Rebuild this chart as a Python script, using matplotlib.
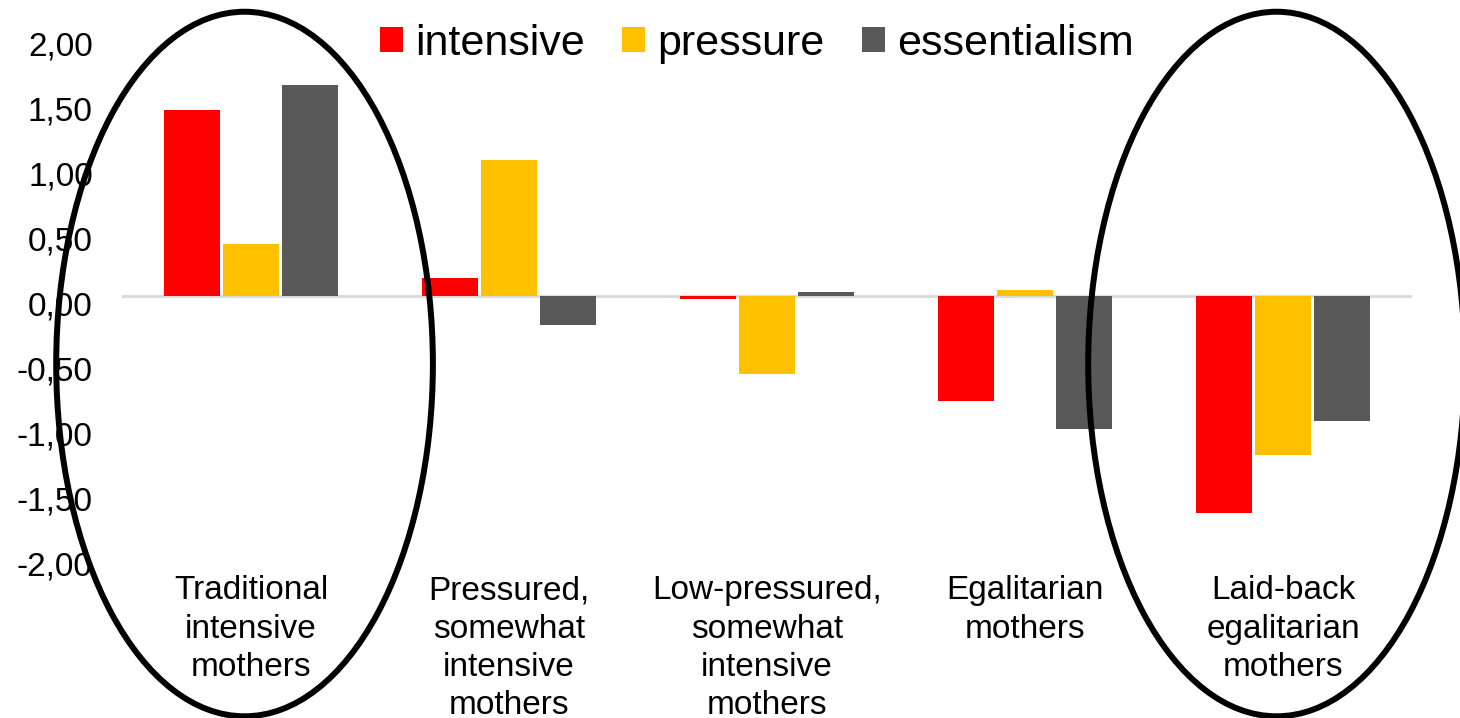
import numpy as np
import matplotlib
matplotlib.use('Agg')
import matplotlib.pyplot as plt
from matplotlib.patches import Ellipse, Patch
from matplotlib.transforms import ScaledTranslation

plt.rcParams['font.family'] = ['Liberation Sans', 'DejaVu Sans']

categories = ['Traditional\nintensive\nmothers',
              'Pressured,\nsomewhat\nintensive\nmothers',
              'Low-pressured,\nsomewhat\nintensive\nmothers',
              'Egalitarian\nmothers',
              'Laid-back\negalitarian\nmothers']
series = ['intensive', 'pressure', 'essentialism']
intensive = [1.43, 0.14, -0.02, -0.81, -1.67]
pressure = [0.40, 1.05, -0.60, 0.05, -1.22]
essentialism = [1.62, -0.22, 0.03, -1.02, -0.96]
colors = ['#FF0000', '#FFC000', '#595959']
yticks = np.arange(-2.0, 2.01, 0.5)
highlighted = [0, 4]   # groups circled with an ellipse


fig = plt.figure(figsize=(14.6, 7.18), dpi=100)
ax = fig.add_axes([122 / 1460, 0.2256, 1290 / 1460, 0.7242])

x = np.arange(len(categories))
width = 0.217
step = 0.229
for i, (vals, col) in enumerate(zip([intensive, pressure, essentialism], colors)):
    ax.bar(x + (i - 1) * step, vals, width, color=col, zorder=3)

ax.axhline(0, color='#d9d9d9', lw=2, zorder=2)
ax.set_xlim(-0.5, len(categories) - 0.5)
ax.set_ylim(-2, 2)
ax.set_yticks(yticks)
ax.set_yticklabels(['{:.2f}'.format(v).replace('.', ',') for v in yticks], fontsize=24)
ax.set_xticks(x)
ax.set_xticklabels(categories, fontsize=24, linespacing=1.3)
ax.tick_params(axis='both', length=0)
ax.tick_params(axis='x', pad=14)
ax.tick_params(axis='y', pad=21)
for s in ax.spines.values():
    s.set_visible(False)

# excel puts the value labels a little below the grid positions
for lab in ax.get_yticklabels():
    lab.set_transform(lab.get_transform() + ScaledTranslation(0, -7 / 100, fig.dpi_scale_trans))

# -------------------------------------------------------------------------
# ellipses round the two extreme groups
# -------------------------------------------------------------------------
for k in highlighted:
    e = Ellipse((k - 0.025, -0.523), 1.46, 5.42, fill=False, lw=4.3,
                edgecolor='black', clip_on=False, zorder=5)
    ax.add_patch(e)

handles = [Patch(facecolor=c, label=s) for c, s in zip(colors, series)]
fig.legend(handles=handles, loc='upper center', bbox_to_anchor=(757 / 1460, 1.0),
           ncol=3, frameon=False, fontsize=31, handlelength=0.53, handleheight=0.53,
           handletextpad=0.28, columnspacing=0.88, borderpad=0.05)

plt.savefig('out.png', dpi=100)
